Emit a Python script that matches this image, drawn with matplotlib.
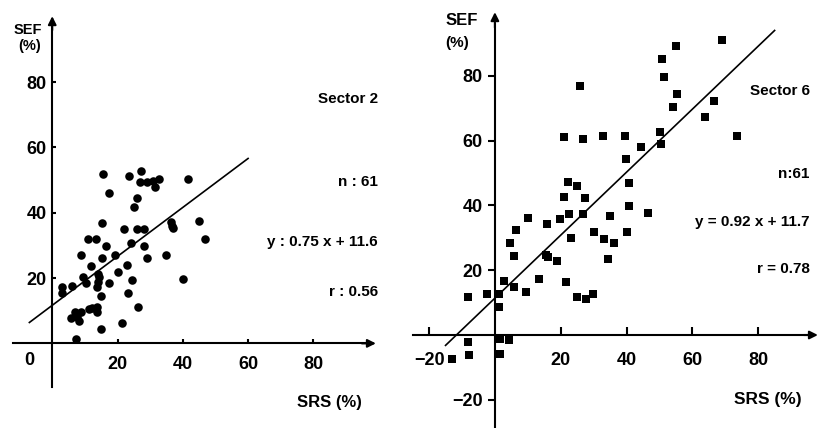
# -*- coding: utf-8 -*-
# SEF vs SRS scatter, sector 2 and sector 6
import numpy as np
import matplotlib.pyplot as plt

plt.rcParams['font.family'] = ['Liberation Sans', 'DejaVu Sans']
plt.rcParams['font.weight'] = 'bold'

# sector 2 data (SRS %, SEF %)
s2_x = [15.4, 23.5, 27.3, 26.8, 28.9, 30.9, 32.8, 31.6, 41.5, 17.4,
        26.0, 25.1, 15.3, 22.0, 26.1, 28.1, 36.4, 36.9, 45.0, 46.7,
        11.0, 13.5, 24.1, 16.4, 28.1, 8.9, 15.1, 19.1, 29.0, 34.7,
        12.0, 22.9, 9.4, 10.4, 14.1, 13.9, 13.7, 20.1, 17.3, 24.3,
        40.0, 2.9, 2.9, 6.2, 15.0, 23.1, 11.3, 13.8, 13.8, 26.3,
        6.9, 8.8, 5.9, 8.2, 21.5, 15.0, 7.3, 12.3, 7.5, 14.4, 36.6]
s2_y = [51.8, 51.2, 52.8, 49.5, 49.5, 49.7, 50.4, 47.8, 50.2, 46.1,
        44.5, 41.7, 36.8, 34.9, 34.9, 34.9, 37.2, 35.3, 37.4, 32.0,
        31.8, 31.8, 30.8, 29.8, 29.8, 27.0, 26.0, 26.9, 26.0, 26.9,
        23.8, 24.0, 20.4, 18.6, 21.1, 18.9, 17.3, 22.0, 18.5, 19.4,
        19.6, 17.3, 15.3, 17.7, 14.5, 15.3, 10.5, 11.2, 9.7, 11.0,
        9.7, 9.5, 7.7, 6.9, 6.3, 4.5, 1.2, 10.7, 8.2, 20.4, 36.0]
s2_line_x = [-7, 60]
s2_line_y = [6.4, 56.6]

# sector 6 data (SRS %, SEF %)
s6_x = [69.1, 55.0, 50.8, 51.4, 25.9, 55.4, 54.1, 66.5, 63.8, 73.5,
        50.1, 50.4, 21.0, 26.8, 33.0, 39.6, 44.4, 39.9, 40.7, 40.6,
        46.6, 40.1, 22.2, 24.8, 27.3, 20.9, 22.6, 26.7, 19.9, 35.0,
        10.2, 15.7, 6.4, 4.5, 5.8, 23.2, 30.0, 33.2, 36.2, 34.5,
        15.5, 18.8, 13.4, 21.7, 2.9, 5.9, 9.5, 1.3, -2.5, -8.1,
        1.1, 24.9, 27.8, 29.8, -8.2, -8.0, -13.0, 1.5, 4.4, 1.7, 16.0]
s6_y = [91.0, 89.3, 85.2, 79.5, 76.9, 74.5, 70.5, 72.2, 67.3, 61.4,
        62.8, 59.1, 61.1, 60.4, 61.3, 61.5, 58.0, 54.3, 46.9, 39.7,
        37.6, 31.8, 47.1, 46.0, 42.3, 42.7, 37.4, 37.3, 35.9, 36.6,
        36.0, 34.3, 32.4, 28.4, 24.3, 29.8, 31.8, 29.7, 28.5, 23.4,
        24.6, 22.8, 17.4, 16.5, 16.6, 14.9, 13.4, 12.6, 12.6, 11.6,
        8.6, 11.6, 11.0, 12.8, -2.1, -6.1, -7.3, -1.1, -1.5, -6.0, 24.0]
s6_line_x = [-15, 85]
s6_line_y = [-3.2, 94]

fig = plt.figure(figsize=(8.22, 4.28), dpi=100)
W, H = 822.0, 428.0
ax1 = fig.add_axes([0, 0, 410 / W, 1])
ax2 = fig.add_axes([410 / W, 0, 412 / W, 1])

ax1.set_xlim(-16.0, 109.6)
ax1.set_ylim(-25.9, 105.1)
ax2.set_xlim(-25.8, 99.4)
ax2.set_ylim(-28.7, 103.4)

for ax in (ax1, ax2):
    ax.patch.set_alpha(0)
    ax.spines['top'].set_visible(False)
    ax.spines['right'].set_visible(False)
    ax.spines['left'].set_position(('data', 0))
    ax.spines['bottom'].set_position(('data', 0))
    ax.spines['left'].set_linewidth(1.5)
    ax.spines['bottom'].set_linewidth(1.5)

# left panel axes
ax1.spines['left'].set_bounds(-13.5, 97)
ax1.spines['bottom'].set_bounds(-12, 96)
ax1.annotate('', xy=(0, 101), xytext=(0, 95),
             arrowprops=dict(arrowstyle='-|>', color='k', lw=1.5, mutation_scale=12))
ax1.annotate('', xy=(100, 0), xytext=(94, 0),
             arrowprops=dict(arrowstyle='-|>', color='k', lw=1.5, mutation_scale=12))
ax1.set_xticks([20, 40, 60, 80])
ax1.set_yticks([20, 40, 60, 80])
ax1.tick_params(axis='both', direction='in', length=3, width=1.5, labelsize=13)
ax1.tick_params(axis='x', pad=9)
ax1.tick_params(axis='y', pad=4)
ax1.text(-7, -5.1, '0', ha='center', va='center', fontsize=13)

ax1.scatter(s2_x, s2_y, s=38, c='k', marker='o', linewidths=0)
ax1.plot(s2_line_x, s2_line_y, color='k', lw=1.2)

ax1.text(-7.4, 96, 'SEF', ha='center', va='center', fontsize=10.5)
ax1.text(-7.0, 91, '(%)', ha='center', va='center', fontsize=10.5)
ax1.text(85, -18, 'SRS (%)', ha='center', va='center', fontsize=12)
ax1.text(99.8, 74.8, 'Sector 2', ha='right', va='center', fontsize=11)
ax1.text(99.8, 49.4, 'n : 61', ha='right', va='center', fontsize=11)
ax1.text(99.8, 31.0, 'y : 0.75 x + 11.6', ha='right', va='center', fontsize=11)
ax1.text(99.8, 15.7, 'r : 0.56', ha='right', va='center', fontsize=11)

# right panel axes
ax2.spines['left'].set_bounds(-28.7, 96)
ax2.spines['bottom'].set_bounds(-25, 95)
ax2.annotate('', xy=(0, 100.5), xytext=(0, 94),
             arrowprops=dict(arrowstyle='-|>', color='k', lw=1.5, mutation_scale=12))
ax2.annotate('', xy=(99, 0), xytext=(93, 0),
             arrowprops=dict(arrowstyle='-|>', color='k', lw=1.5, mutation_scale=12))
ax2.set_xticks([-20, 20, 40, 60, 80])
ax2.set_yticks([-20, 20, 40, 60, 80])
ax2.set_xticklabels(['\u221220', '20', '40', '60', '80'])
ax2.set_yticklabels(['\u221220', '20', '40', '60', '80'])
ax2.tick_params(axis='x', direction='in', length=6, width=1.5, labelsize=13, pad=12)
ax2.tick_params(axis='y', direction='out', length=5, width=1.5, labelsize=13, pad=4)

ax2.scatter(s6_x, s6_y, s=30, c='k', marker='s', linewidths=0)
ax2.plot(s6_line_x, s6_line_y, color='k', lw=1.2)

ax2.text(-10, 97.2, 'SEF', ha='center', va='center', fontsize=12)
ax2.text(-11.6, 90, '(%)', ha='center', va='center', fontsize=11)
ax2.text(83, -20, 'SRS (%)', ha='center', va='center', fontsize=12.5)
ax2.text(95.7, 75.3, 'Sector 6', ha='right', va='center', fontsize=11)
ax2.text(95.7, 49.7, 'n:61', ha='right', va='center', fontsize=11)
ax2.text(95.7, 34.9, 'y = 0.92 x + 11.7', ha='right', va='center', fontsize=11)
ax2.text(95.7, 20.4, 'r = 0.78', ha='right', va='center', fontsize=11)

fig.savefig('out.png', dpi=100)
